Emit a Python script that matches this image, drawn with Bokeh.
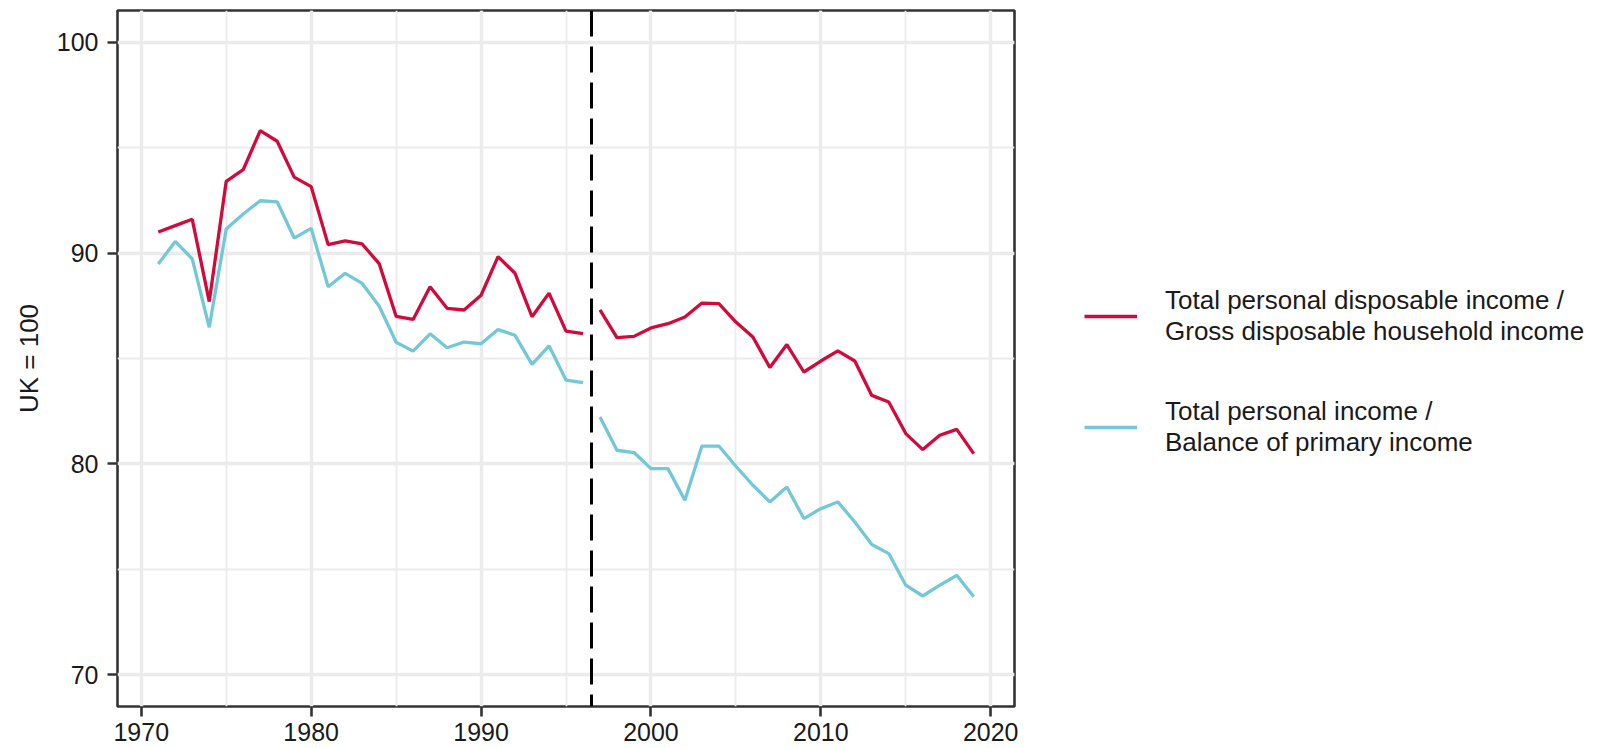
from bokeh.plotting import figure
from bokeh.layouts import row
from bokeh.models import (ColumnDataSource, SingleIntervalTicker, Span, Legend, LegendItem, Range1d)
from bokeh.embed import file_html
from bokeh.resources import INLINE

# ---- data ----
years_a = list(range(1971, 1997))
disp_a = [91.0, 91.3, 91.6, 87.7, 93.4, 93.95, 95.8, 95.3, 93.6, 93.15,
          90.4, 90.58, 90.43, 89.5, 87.0, 86.85, 88.4, 87.38, 87.3, 88.0,
          89.83, 89.04, 86.98, 88.1, 86.3, 86.18]
prim_a = [89.48, 90.55, 89.72, 86.48, 91.14, 91.85, 92.48, 92.43, 90.71, 91.17,
          88.4, 89.04, 88.56, 87.49, 85.77, 85.35, 86.17, 85.51, 85.78, 85.7,
          86.37, 86.1, 84.72, 85.6, 83.98, 83.86]
years_b = list(range(1997, 2020))
disp_b = [87.31, 85.99, 86.05, 86.45, 86.65, 86.97, 87.63, 87.6, 86.73, 86.02,
          84.57, 85.66, 84.36, 84.88, 85.36, 84.88, 83.25, 82.94, 81.44, 80.68,
          81.36, 81.64, 80.49]
prim_b = [82.23, 80.65, 80.54, 79.78, 79.78, 78.28, 80.85, 80.85, 79.89, 78.99,
          78.2, 78.91, 77.41, 77.88, 78.2, 77.25, 76.18, 75.75, 74.25, 73.74,
          74.25, 74.72, 73.7]
break_year = 1996.5
series_labels = ["Total personal disposable income /\nGross disposable household income",
                 "Total personal income /\nBalance of primary income"]
y_title = "UK = 100"

RED = "#D20A3C"
BLUE = "#72C8D7"
FONT = "Liberation Sans"
TXT = "#1a1a1a"
LW = 3.3

p = figure(width=1030, height=748, output_backend="svg", toolbar_location=None,
           x_range=Range1d(1968.6, 2021.4), y_range=Range1d(68.5, 101.5),
           min_border_left=117, min_border_right=16, min_border_top=10, min_border_bottom=42)
p.background_fill_color = "white"
p.border_fill_color = "white"
p.outline_line_color = "#333333"
p.outline_line_width = 2.6

p.xaxis.ticker = SingleIntervalTicker(interval=10, num_minor_ticks=2)
p.yaxis.ticker = SingleIntervalTicker(interval=10, num_minor_ticks=2)
for ax in (p.xaxis[0], p.yaxis[0]):
    ax.axis_line_color = None
    ax.major_tick_line_color = "#333333"
    ax.major_tick_line_width = 2.6
    ax.major_tick_out = 10
    ax.major_tick_in = 0
    ax.minor_tick_line_color = None
    ax.major_label_text_font = FONT
    ax.major_label_text_font_size = "25px"
    ax.major_label_text_color = TXT
p.xaxis.major_label_standoff = 6
p.yaxis.major_label_standoff = 9
p.yaxis.axis_label = y_title
p.yaxis.axis_label_text_font = FONT
p.yaxis.axis_label_text_font_size = "26px"
p.yaxis.axis_label_text_font_style = "normal"
p.yaxis.axis_label_text_color = TXT
p.yaxis.axis_label_standoff = 10

for g in (p.xgrid[0], p.ygrid[0]):
    g.grid_line_color = "#EBEBEB"
    g.grid_line_width = 3.4
    g.minor_grid_line_color = "#EBEBEB"
    g.minor_grid_line_width = 1.8

src_a = ColumnDataSource(dict(x=years_a, d=disp_a, pr=prim_a))
src_b = ColumnDataSource(dict(x=years_b, d=disp_b, pr=prim_b))

p.line("x", "d", source=src_a, line_color=RED, line_width=LW)
p.line("x", "d", source=src_b, line_color=RED, line_width=LW)
p.line("x", "pr", source=src_a, line_color=BLUE, line_width=LW)
p.line("x", "pr", source=src_b, line_color=BLUE, line_width=LW)

p.add_layout(Span(location=break_year, dimension="height", line_color="black",
                  line_width=3, line_dash="26 10"))

# ---- legend panel (key samples only, drawn off-range) ----
lg = figure(width=575, height=748, output_backend="svg", toolbar_location=None,
            x_range=Range1d(0, 1), y_range=Range1d(0, 1),
            x_axis_type=None, y_axis_type=None,
            min_border_left=0, min_border_right=0, min_border_top=0, min_border_bottom=0)
lg.outline_line_color = None
lg.background_fill_color = "white"
lg.border_fill_color = "white"
lg.grid.visible = False
k1 = lg.line(x=[-5, -4], y=[-5, -5], line_color=RED, line_width=LW)
k2 = lg.line(x=[-5, -4], y=[-5, -5], line_color=BLUE, line_width=LW)

legend = Legend(items=[LegendItem(label=series_labels[0], renderers=[k1]),
                       LegendItem(label=series_labels[1], renderers=[k2])],
                location=(54, 248), orientation="vertical")
legend.border_line_color = None
legend.background_fill_alpha = 0
legend.padding = 0
legend.margin = 0
legend.glyph_width = 53
legend.glyph_height = 56
legend.label_standoff = 28
legend.spacing = 49
legend.label_text_font = FONT
legend.label_text_font_size = "26px"
legend.label_text_color = TXT
legend.label_text_line_height = 1.2
lg.add_layout(legend, "center")

layout = row(p, lg, spacing=0)
open("out.html", "w").write(file_html(layout, INLINE))
